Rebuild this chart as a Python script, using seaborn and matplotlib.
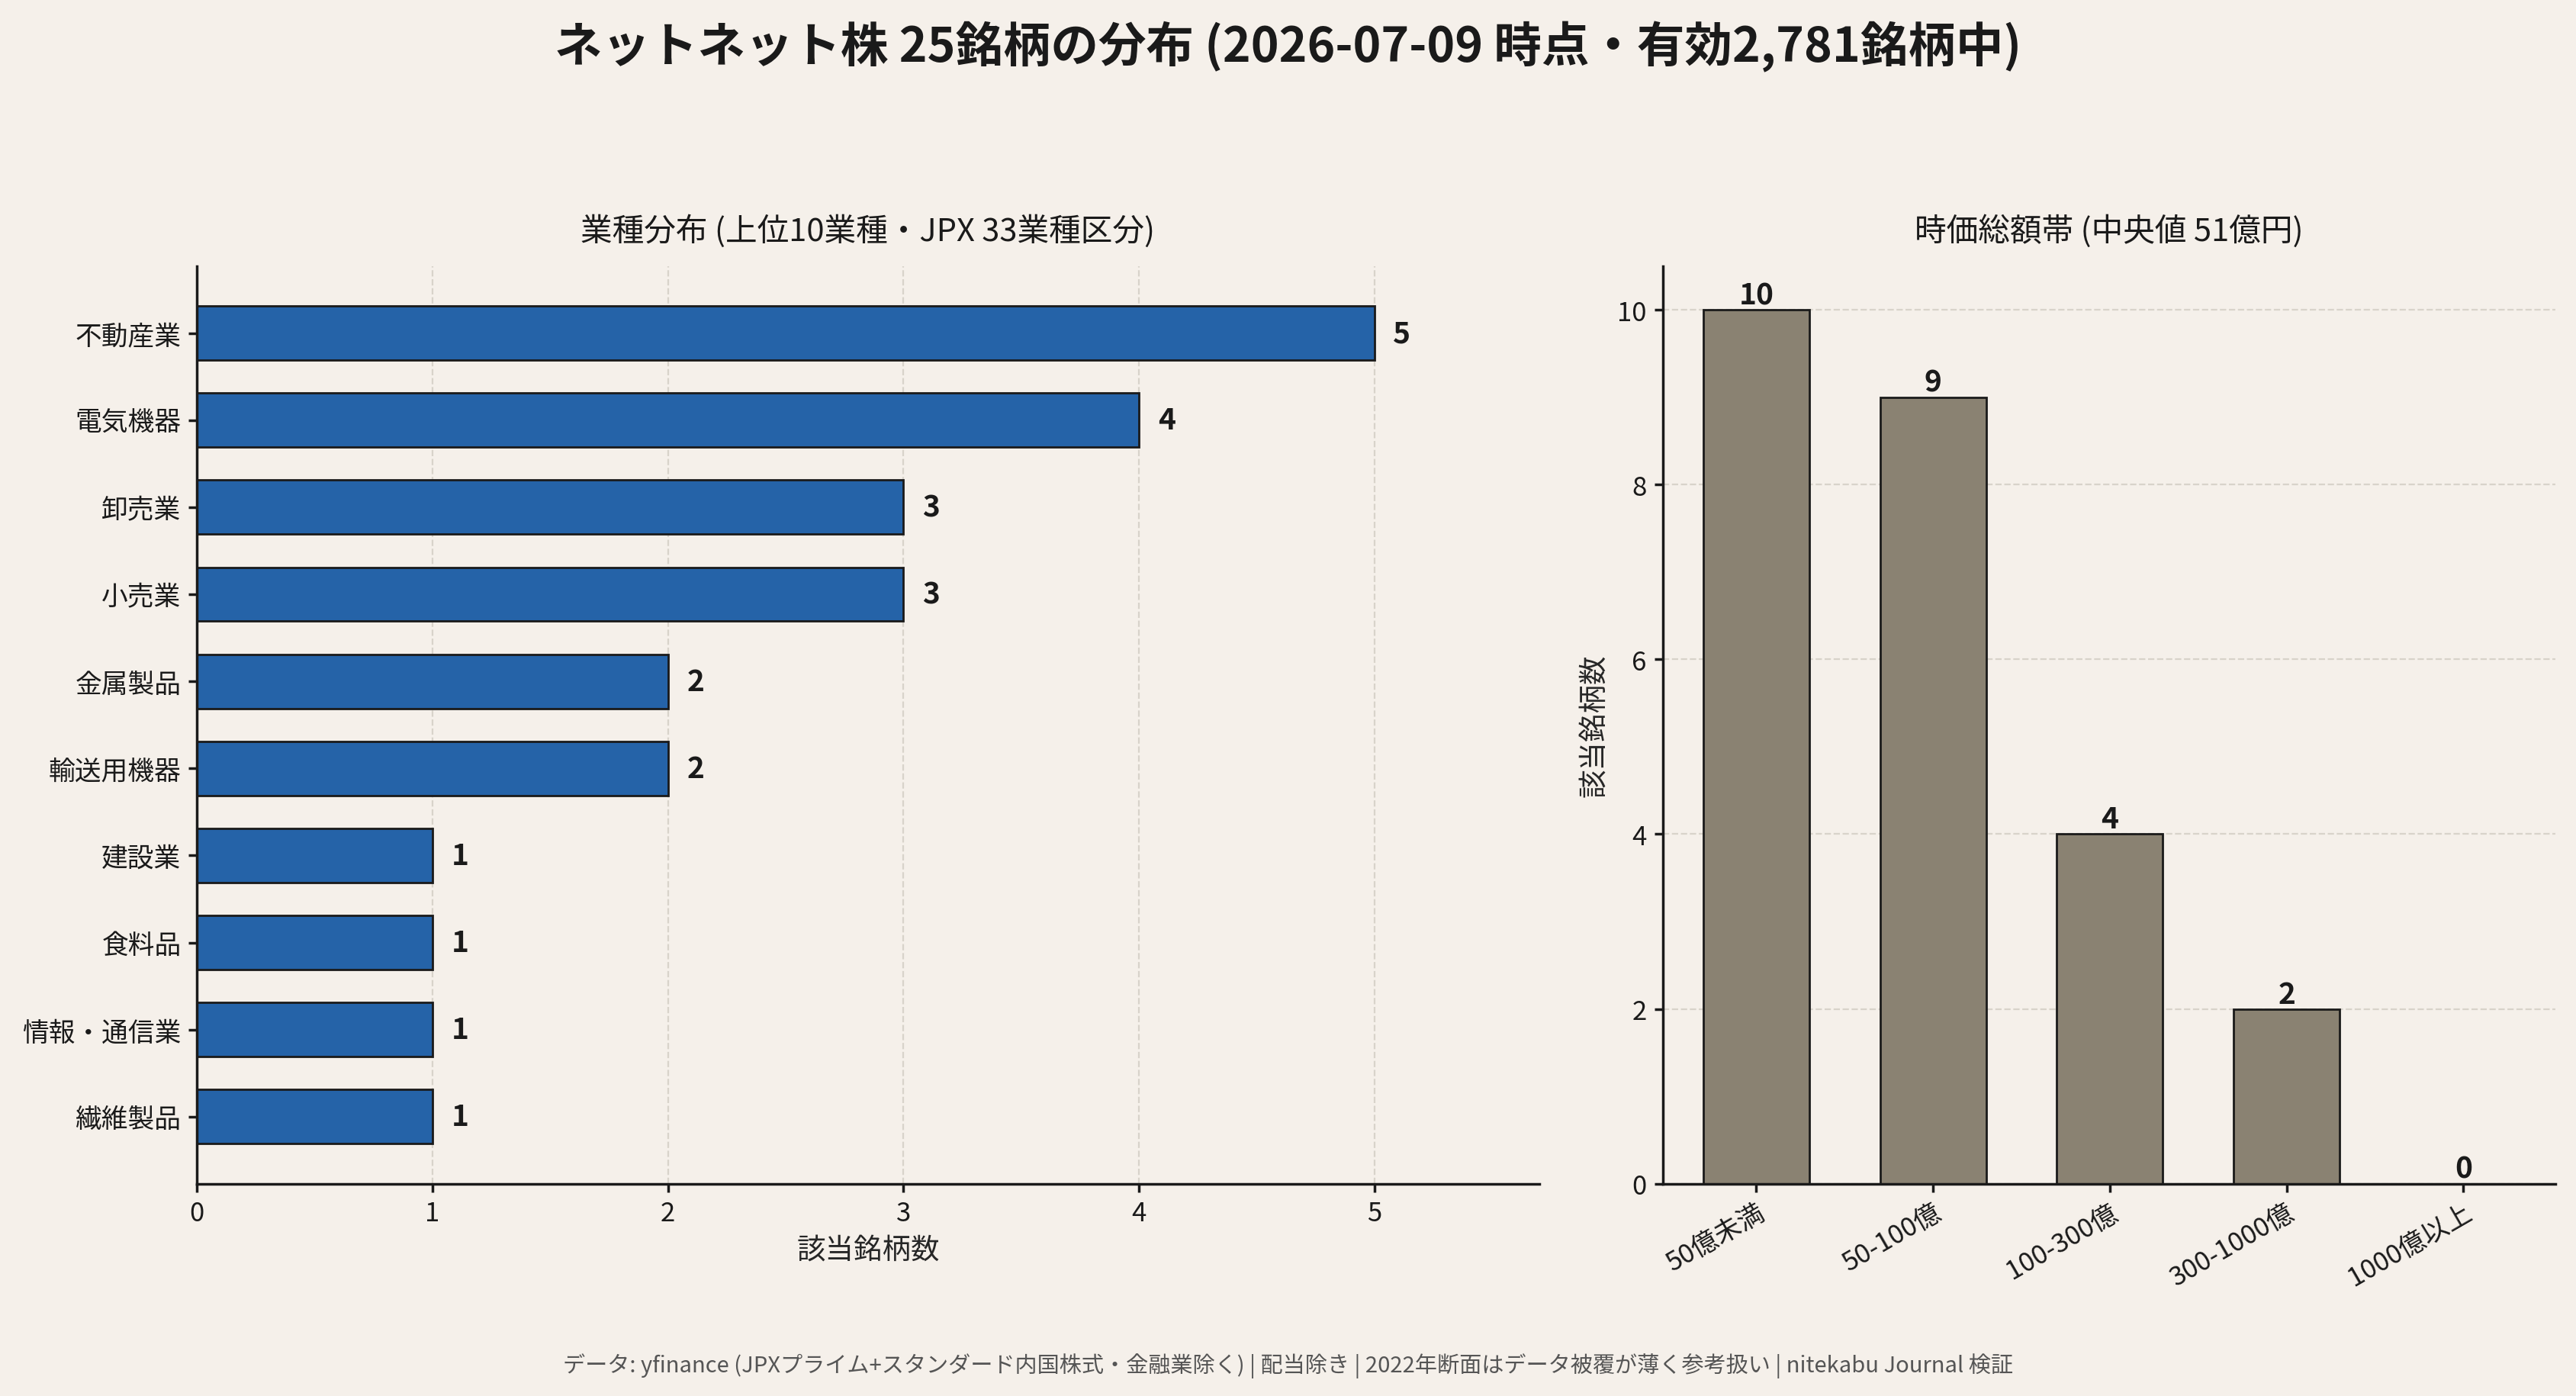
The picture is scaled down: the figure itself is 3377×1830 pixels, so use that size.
import numpy as np
import pandas as pd
import matplotlib
matplotlib.use("Agg")
import matplotlib.pyplot as plt
import seaborn as sns

industries = ["不動産業", "電気機器", "卸売業", "小売業", "金属製品",
              "輸送用機器", "建設業", "食料品", "情報・通信業", "繊維製品"]
industry_counts = [5, 4, 3, 3, 2, 2, 1, 1, 1, 1]

cap_bands = ["50億未満", "50-100億", "100-300億", "300-1000億", "1000億以上"]
cap_counts = [10, 9, 4, 2, 0]

bg = "#f5f0ea"
sns.set_theme(style="white")
plt.rcParams["font.family"] = ["Noto Sans CJK JP", "DejaVu Sans"]
plt.rcParams["figure.facecolor"] = bg
plt.rcParams["axes.facecolor"] = bg
plt.rcParams["axes.edgecolor"] = "#1a1a1a"
plt.rcParams["text.color"] = "#1a1a1a"
plt.rcParams["xtick.color"] = "#1a1a1a"
plt.rcParams["ytick.color"] = "#1a1a1a"

fig = plt.figure(figsize=(16.885, 9.155), dpi=200)
ax1 = fig.add_axes([0.0765, 0.152, 0.521, 0.657])
ax2 = fig.add_axes([0.6454, 0.152, 0.3466, 0.657])

# left: industries
df1 = pd.DataFrame({"industry": industries, "count": industry_counts})
sns.barplot(data=df1, y="industry", x="count", ax=ax1, color="#2563a8",
            saturation=1, width=0.62, edgecolor="#1a1a1a", linewidth=1.0)
ax1.set_xlim(0, 5.7)
ax1.set_ylim(len(industries) - 1 + 0.77, -0.77)
ax1.grid(axis="x", linestyle="--", color="#d8d3ca", linewidth=0.8)
ax1.set_axisbelow(True)
for i, v in enumerate(industry_counts):
    ax1.text(v + 0.08, i, str(v), va="center", ha="left",
             fontsize=14, fontweight="bold")
ax1.set_title("業種分布 (上位10業種・JPX 33業種区分)", fontsize=15, pad=12)
ax1.set_xlabel("該当銘柄数", fontsize=13.5)
ax1.set_ylabel("")
ax1.tick_params(axis="y", labelsize=12.5, length=4, left=True)
ax1.tick_params(axis="x", labelsize=12.5, length=4, bottom=True)
ax1.spines[["top", "right"]].set_visible(False)

# right: market cap bands
df2 = pd.DataFrame({"band": cap_bands, "count": cap_counts})
sns.barplot(data=df2, x="band", y="count", ax=ax2, color="#8a8272",
            saturation=1, width=0.6, edgecolor="#1a1a1a", linewidth=1.0)
ax2.set_ylim(0, 10.5)
ax2.set_xlim(-0.53, 4.52)
ax2.set_yticks([0, 2, 4, 6, 8, 10])
ax2.grid(axis="y", linestyle="--", color="#d8d3ca", linewidth=0.8)
ax2.set_axisbelow(True)
for i, v in enumerate(cap_counts):
    ax2.text(i, v, str(v), va="bottom", ha="center",
             fontsize=14, fontweight="bold")
ax2.set_title("時価総額帯 (中央値 51億円)", fontsize=15, pad=12)
ax2.set_ylabel("該当銘柄数", fontsize=13.5)
ax2.set_xlabel("")
ax2.tick_params(axis="x", labelsize=12.5, length=4, bottom=True)
ax2.tick_params(axis="y", labelsize=12.5, length=4, left=True)
plt.setp(ax2.get_xticklabels(), rotation=30, ha="right", rotation_mode="anchor")
ax2.spines[["top", "right"]].set_visible(False)

fig.suptitle("ネットネット株 25銘柄の分布 (2026-07-09 時点・有効2,781銘柄中)",
             fontsize=22.5, fontweight="bold", y=0.985)
fig.text(0.5, 0.022,
         "データ: yfinance (JPXプライム+スタンダード内国株式・金融業除く) | 配当除き | 2022年断面はデータ被覆が薄く参考扱い | nitekabu Journal 検証",
         ha="center", va="center", fontsize=10.5, color="#555555")

fig.savefig("out.png", dpi=200, facecolor=bg)
